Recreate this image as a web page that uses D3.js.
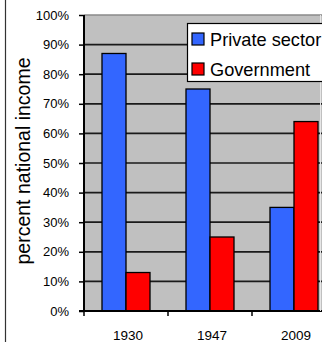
<!DOCTYPE html>
<html>
<head>
<meta charset="utf-8">
<script src="https://cdn.jsdelivr.net/npm/d3@7"></script>
<style>
html,body{margin:0;padding:0;background:#fff;}
svg{display:block;font-family:"Liberation Sans",Arial,sans-serif;}
</style>
</head>
<body>
<svg id="chart" width="322" height="342"></svg>
<script>
const categories = ["1930", "1947", "2009"];
const seriesNames = ["Private sector", "Government"];
const privateSector = [0.87, 0.75, 0.35];
const government = [0.13, 0.25, 0.64];
const yTicks = [0, 0.1, 0.2, 0.3, 0.4, 0.5, 0.6, 0.7, 0.8, 0.9, 1.0];
const colors = ["#3366ff", "#ff0000"];
const yTitle = "percent national income";

const seriesValues = [privateSector, government];
const svg = d3.select("#chart");
const plot = {left: 84, right: 336, top: 15, bottom: 311};

const x = d3.scaleBand().domain(categories).range([plot.left, plot.right])
  .paddingInner(0.4286).paddingOuter(0.2143);
const xs = d3.scaleBand().domain(seriesNames).range([0, x.bandwidth()]);
const y = d3.scaleLinear().domain([0, 1]).range([plot.bottom, plot.top]);

// outer left border
svg.append("line").attr("x1", 5.5).attr("x2", 5.5).attr("y1", 0).attr("y2", 342)
  .attr("stroke", "#333").attr("stroke-width", 1.2);

// plot background
svg.append("rect").attr("x", plot.left).attr("y", plot.top)
  .attr("width", plot.right - plot.left).attr("height", plot.bottom - plot.top)
  .attr("fill", "#c0c0c0");
svg.append("line").attr("x1", plot.left).attr("x2", 322).attr("y1", plot.top).attr("y2", plot.top)
  .attr("stroke", "#8a8a8a").attr("stroke-width", 1.5);

// gridlines
svg.append("g").selectAll("line").data(yTicks.slice(1, -1)).join("line")
  .attr("x1", plot.left).attr("x2", plot.right)
  .attr("y1", d => y(d)).attr("y2", d => y(d))
  .attr("stroke", "#1a1a1a").attr("stroke-width", 1.7);

// bars
const groups = svg.append("g").selectAll("g").data(categories).join("g")
  .attr("transform", d => `translate(${x(d)},0)`);
groups.selectAll("rect").data((c, i) => seriesNames.map((s, j) => ({s, j, v: seriesValues[j][i]})))
  .join("rect")
  .attr("x", d => xs(d.s)).attr("width", xs.bandwidth())
  .attr("y", d => y(d.v)).attr("height", d => y(0) - y(d.v))
  .attr("fill", d => colors[d.j]).attr("stroke", "#000").attr("stroke-width", 1.3);

// y axis
const yAxis = svg.append("g").attr("transform", `translate(${plot.left},0)`)
  .call(d3.axisLeft(y).tickValues(yTicks).tickFormat(d3.format(".0%")).tickSize(5).tickPadding(10));
yAxis.select(".domain").attr("stroke", "#000").attr("stroke-width", 2).attr("d", `M0,${plot.top}V${plot.bottom}`);
yAxis.selectAll(".tick line").attr("stroke", "#000").attr("stroke-width", 1.5);
yAxis.selectAll(".tick text").attr("font-size", 13).attr("fill", "#000")
  .attr("font-family", "'Liberation Sans',Arial,sans-serif");

// x axis
svg.append("line").attr("x1", plot.left - 5).attr("x2", 322).attr("y1", plot.bottom).attr("y2", plot.bottom)
  .attr("stroke", "#000").attr("stroke-width", 2);
const boundaries = categories.map(c => x(c) - x.step() * x.paddingOuter());
svg.append("g").selectAll("line").data(boundaries).join("line")
  .attr("x1", d => d).attr("x2", d => d).attr("y1", plot.bottom).attr("y2", plot.bottom + 5)
  .attr("stroke", "#000").attr("stroke-width", 1.5);
svg.append("g").selectAll("text").data(categories).join("text")
  .attr("x", d => x(d) + x.bandwidth() / 2 + 2).attr("y", 340)
  .attr("text-anchor", "middle").attr("font-size", 13.5).attr("fill", "#000")
  .text(d => d);

// y title
svg.append("text").attr("transform", `translate(30,${(plot.top + plot.bottom) / 2 - 2}) rotate(-90)`)
  .attr("text-anchor", "middle").attr("font-size", 19.5).attr("fill", "#000")
  .text(yTitle);

// right edge line
svg.append("line").attr("x1", 320.5).attr("x2", 320.5).attr("y1", plot.top).attr("y2", plot.bottom)
  .attr("stroke", "#e6e6e6").attr("stroke-width", 1);

// legend
const lg = svg.append("g").attr("transform", "translate(187,23)");
lg.append("rect").attr("x", 0.5).attr("y", 0.5).attr("width", 160).attr("height", 58)
  .attr("fill", "#fff").attr("stroke", "#000").attr("stroke-width", 1.2);
const items = lg.selectAll("g").data(seriesNames).join("g")
  .attr("transform", (d, i) => `translate(5,${10 + i * 30})`);
items.append("rect").attr("width", 12).attr("height", 12)
  .attr("fill", (d, i) => colors[i]).attr("stroke", "#000").attr("stroke-width", 1.2);
items.append("text").attr("x", 18).attr("y", 13).attr("font-size", 18.2).attr("fill", "#000")
  .text(d => d);
</script>
</body>
</html>
